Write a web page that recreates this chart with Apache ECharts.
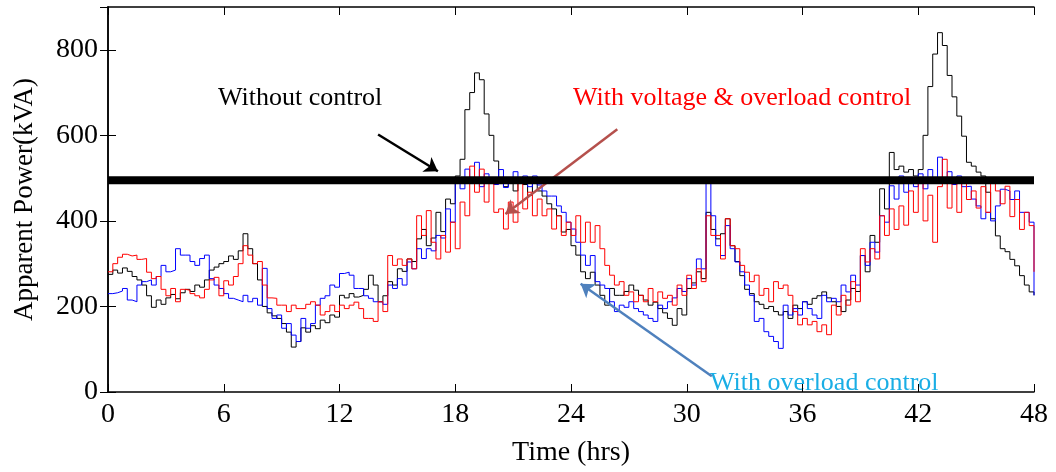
<!DOCTYPE html>
<html>
<head>
<meta charset="utf-8">
<script src="https://cdn.jsdelivr.net/npm/echarts@6/dist/echarts.min.js"></script>
<style>
  html, body { margin: 0; padding: 0; background: #fff; }
  #chart { width: 1056px; height: 472px; }
</style>
</head>
<body>
<div id="chart"></div>
<script>
// sampling step of the traces (hours)
const stepHrs = 0.25;
const xTicks = [0, 6, 12, 18, 24, 30, 36, 42, 48];
const yTicks = [0, 200, 400, 600, 800];
const limitKVA = 495;

// apparent power (kVA), one value every 15 min, 0..48 h
const withoutControl = [
  275, 285, 278, 290, 282, 270, 262, 250, 225, 198, 215, 205, 220, 228, 218, 232,
  240, 235, 250, 245, 262, 285, 292, 300, 305, 318, 310, 330, 370, 335, 300, 262,
  200, 185, 178, 172, 160, 140, 105, 118, 150, 140, 155, 148, 168, 162, 180, 175,
  226, 220, 230, 222, 226, 240, 273, 250, 211, 225, 258, 250, 288, 282, 311, 305,
  358, 380, 342, 360, 420, 375, 451, 440, 505, 544, 660, 700, 746, 730, 650, 600,
  540, 500, 480, 490, 470, 500, 485, 460, 495, 470, 458, 440, 428, 412, 374, 380,
  342, 320, 281, 265, 280, 250, 226, 203, 242, 226, 226, 235, 250, 238, 226, 215,
  203, 210, 195, 185, 172, 156, 195, 180, 242, 255, 281, 265, 420, 380, 358, 370,
  405, 342, 305, 272, 240, 230, 211, 205, 195, 200, 188, 180, 188, 172, 203, 195,
  211, 205, 219, 225, 234, 220, 211, 200, 188, 215, 242, 235, 319, 281, 366, 350,
  475, 428, 560, 520, 528, 514, 520, 505, 520, 600, 714, 790, 840, 810, 740, 690,
  645, 598, 537, 528, 514, 505, 467, 405, 365, 335, 328, 310, 295, 272, 250, 234,
  226
];
const overloadControl = [
  230, 232, 236, 242, 215, 211, 250, 258, 262, 250, 270, 296, 281, 285, 335, 320,
  320, 305, 296, 312, 320, 265, 250, 242, 230, 219, 215, 211, 226, 211, 219, 203,
  289, 195, 172, 180, 149, 160, 133, 118, 172, 149, 160, 203, 219, 225, 250, 245,
  277, 280, 273, 242, 242, 225, 219, 211, 211, 205, 250, 242, 265, 250, 304, 288,
  335, 312, 335, 330, 366, 360, 428, 397, 498, 475, 521, 490, 537, 480, 510, 495,
  485, 520, 478, 500, 515, 490, 505, 480, 505, 484, 470, 458, 458, 435, 420, 397,
  381, 350, 320, 296, 319, 258, 250, 242, 211, 188, 203, 198, 211, 195, 188, 180,
  172, 165, 203, 195, 211, 220, 242, 235, 265, 250, 311, 288, 490, 412, 342, 319,
  389, 335, 304, 281, 250, 226, 165, 172, 141, 130, 118, 102, 203, 180, 195, 180,
  211, 195, 180, 172, 226, 211, 219, 211, 250, 234, 273, 250, 319, 296, 350, 327,
  412, 397, 482, 451, 505, 467, 490, 480, 510, 475, 520, 500, 549, 490, 515, 485,
  505, 480, 481, 451, 435, 405, 420, 400, 435, 474, 470, 450, 470, 420, 420, 397,
  226
];
const voltageOverloadControl = [
  281, 300, 315, 322, 318, 320, 310, 312, 280, 265, 270, 240, 225, 242, 211, 240,
  238, 230, 225, 220, 240, 262, 268, 225, 260, 250, 270, 300, 342, 320, 300, 305,
  250, 220, 219, 203, 203, 188, 203, 195, 195, 205, 211, 203, 180, 188, 203, 188,
  203, 195, 203, 210, 195, 172, 172, 165, 211, 188, 319, 296, 311, 296, 311, 288,
  412, 366, 424, 350, 311, 366, 327, 397, 335, 444, 412, 528, 467, 521, 444, 490,
  420, 428, 381, 444, 397, 490, 428, 467, 412, 451, 412, 428, 381, 412, 366, 397,
  366, 412, 350, 397, 350, 389, 335, 296, 273, 250, 258, 226, 234, 211, 226, 211,
  242, 211, 234, 219, 226, 203, 250, 226, 273, 242, 288, 258, 412, 366, 366, 311,
  405, 342, 335, 296, 280, 258, 273, 226, 242, 211, 258, 242, 250, 226, 188, 157,
  172, 157, 165, 141, 157, 134, 203, 180, 226, 203, 258, 211, 335, 304, 335, 311,
  412, 366, 428, 380, 435, 390, 470, 420, 498, 400, 460, 350, 480, 544, 430, 500,
  420, 498, 450, 470, 430, 480, 420, 490, 470, 440, 481, 410, 450, 380, 420, 389,
  281
];

// arrow annotations: [from, to] in (hours, kVA)
const arrowWithout = [[14.0, 602], [17.1, 516]];
const arrowVoltage = [[26.4, 614], [20.6, 416]];
const arrowOverload = [[31.3, 37], [24.5, 253]];

const serif = 'Liberation Serif, Times New Roman, serif';
const toPairs = vals => vals.map((v, i) => [i * stepHrs, v]);

const chart = echarts.init(document.getElementById('chart'));

const baseX = {
  type: 'value', min: 0, max: 48, interval: 6,
  axisLine: { show: true, onZero: false, lineStyle: { color: '#000', width: 1.5 } },
  axisTick: { show: true, inside: true, length: 8, lineStyle: { color: '#000' } },
  splitLine: { show: false }
};
const baseY = {
  type: 'value', min: 0, max: 900, interval: 200,
  axisLine: { show: true, lineStyle: { color: '#000', width: 1.5 } },
  axisTick: { show: true, inside: true, length: 8, lineStyle: { color: '#000' } },
  splitLine: { show: false }
};

function trace(name, vals, color, z) {
  return {
    name: name, type: 'line', step: 'end', showSymbol: false, symbol: 'none',
    data: toPairs(vals), z: z, animation: false,
    lineStyle: { color: color, width: 1 }
  };
}

function arrow(pts, color, width) {
  return [
    { coord: pts[0], symbol: 'none', lineStyle: { color: color, width: width, type: 'solid' } },
    { coord: pts[1], symbol: 'arrow', symbolSize: 13 }
  ];
}

const options = {
  backgroundColor: '#fff',
  animation: false,
  grid: { left: 108, right: 22, top: 7, bottom: 77 },
  xAxis: [
    Object.assign({}, baseX, {
      position: 'bottom',
      name: 'Time (hrs)', nameLocation: 'middle', nameGap: 47,
      nameTextStyle: { fontFamily: serif, fontSize: 28, color: '#000' },
      axisLabel: { margin: 9, fontFamily: serif, fontSize: 28, color: '#000' }
    }),
    Object.assign({}, baseX, { position: 'top', axisLabel: { show: false } })
  ],
  yAxis: [
    Object.assign({}, baseY, {
      position: 'left',
      name: 'Apparent Power(kVA)', nameLocation: 'middle', nameGap: 70,
      nameTextStyle: { fontFamily: serif, fontSize: 27, color: '#000' },
      axisLabel: { margin: 10, fontFamily: serif, fontSize: 28, color: '#000', showMaxLabel: false }
    }),
    Object.assign({}, baseY, { position: 'right', axisLabel: { show: false } })
  ],
  series: [
    trace('Without control', withoutControl, '#000000', 2),
    trace('With overload control', overloadControl, '#0000ff', 3),
    trace('With voltage & overload control', voltageOverloadControl, '#ff0000', 4),
    {
      name: 'limit', type: 'line', symbol: 'none', z: 6, silent: true,
      data: [[0, limitKVA], [48, limitKVA]],
      lineStyle: { color: '#000', width: 8 },
      markLine: {
        silent: true, animation: false,
        label: { show: false },
        data: [
          arrow(arrowWithout, '#000000', 2.5),
          arrow(arrowVoltage, '#b5504c', 2.5),
          arrow(arrowOverload, '#4f81bd', 2.5)
        ]
      }
    }
  ],
  graphic: [
    { type: 'text', left: 218, top: 85,
      style: { text: 'Without control', font: '26px ' + serif, fill: '#000' } },
    { type: 'text', left: 573, top: 85,
      style: { text: 'With voltage & overload control', font: '26px ' + serif, fill: '#ff0000' } },
    { type: 'text', left: 710, top: 370,
      style: { text: 'With overload control', font: '26px ' + serif, fill: '#1aaee5' } }
  ]
};

chart.setOption(options);
window.onresize = () => chart.resize();
</script>
</body>
</html>
